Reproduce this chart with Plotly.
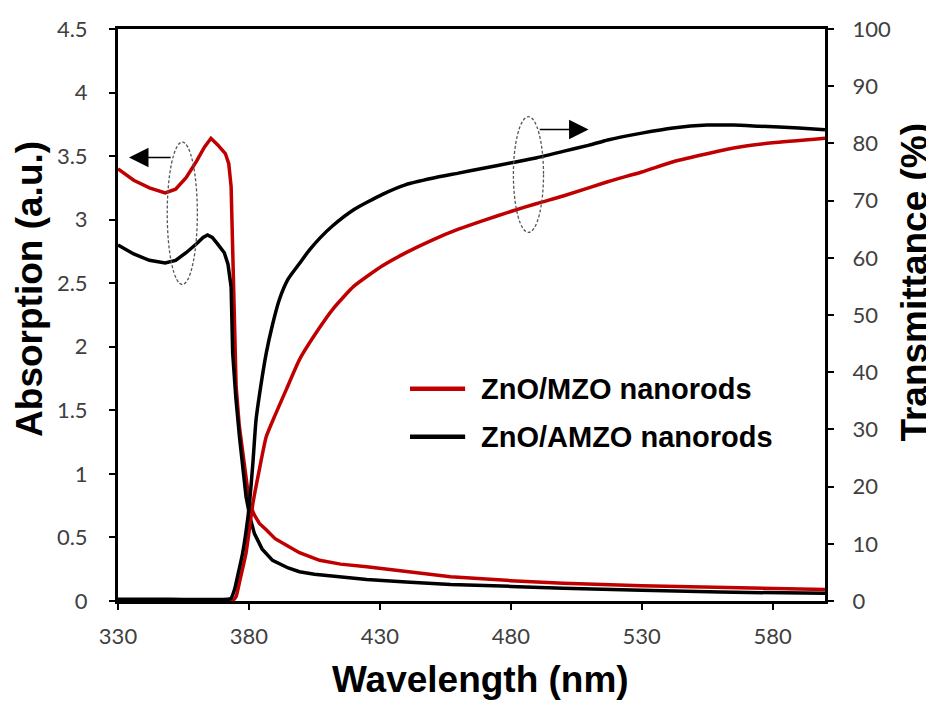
import plotly.graph_objects as go

# ---------------- data ----------------
wl_abs_mzo = [330, 336, 342, 348, 352, 356, 360, 363, 365.5, 368, 371, 372.3, 373.2, 374.1, 375.1,
              376.3, 377.6, 379, 380.2, 382, 384, 386.6, 390, 395, 399.3, 407, 415, 425, 440, 457,
              480, 500, 530, 560, 580, 600]
abs_mzo = [3.40, 3.31, 3.25, 3.21, 3.24, 3.33, 3.46, 3.57, 3.64, 3.59, 3.52, 3.44, 3.26, 2.47, 1.69,
           1.38, 1.16, 0.93, 0.77, 0.68, 0.61, 0.56, 0.49, 0.43, 0.38, 0.32, 0.29, 0.27, 0.23, 0.19,
           0.16, 0.14, 0.12, 0.105, 0.095, 0.09]

wl_abs_amzo = [330, 336, 342, 348, 352, 356, 360, 362.5, 364.2, 366, 368, 370.6, 372, 373.2, 373.8,
               375, 376.4, 377.6, 378.9, 380.5, 382.1, 385, 389, 395, 399.3, 405, 415, 425, 440, 457,
               480, 500, 530, 560, 600]
abs_amzo = [2.80, 2.73, 2.68, 2.66, 2.68, 2.74, 2.81, 2.86, 2.88, 2.86, 2.81, 2.74, 2.65, 2.47, 1.95,
            1.60, 1.29, 1.03, 0.82, 0.65, 0.53, 0.41, 0.32, 0.26, 0.23, 0.21, 0.19, 0.17, 0.15, 0.13,
            0.115, 0.10, 0.085, 0.07, 0.06]

wl_tr_mzo = [330, 350, 374, 375.1, 376.5, 378.9, 381.5, 384, 386.6, 390, 394.3, 399.3, 407, 412, 420,
             431, 440, 450, 460, 470, 480, 490, 500, 517, 530, 542, 555, 568, 580, 600]
tr_mzo = [0.2, 0.2, 0.2, 0.8, 3.5, 8.4, 17, 23, 28.7, 32.5, 37.0, 42.2, 47.8, 51.0, 55,
          58.6, 60.9, 63.1, 65, 66.6, 68.1, 69.5, 70.8, 73.3, 75, 76.8, 78.2, 79.4, 80.1, 80.9]

wl_tr_amzo = [330, 350, 372, 373.2, 374.5, 376, 377.6, 379, 380.2, 381.5, 382.7, 384.5, 386.6, 389,
              391.7, 395, 399.3, 403, 407, 412, 420, 431, 440, 450, 460, 470, 480, 490, 500, 510,
              517, 530, 542, 555, 565, 575, 590, 600]
tr_amzo = [0.3, 0.3, 0.3, 0.5, 2, 5, 8.4, 12.5, 17, 24, 31.6, 37.5, 43.3, 48.3,
           52.8, 56.3, 59.0, 61.3, 63.4, 65.6, 68.4, 71.1, 72.8, 73.9, 74.8, 75.7, 76.6, 77.5, 78.6, 79.7,
           80.6, 81.8, 82.7, 83.2, 83.2, 83.0, 82.7, 82.4]

series_names = ["ZnO/MZO nanorods", "ZnO/AMZO nanorods"]
x_ticks = [330, 380, 430, 480, 530, 580]
axis_titles = ["Wavelength (nm)", "Absorption (a.u.)", "Transmittance (%)"]

RED = "#C00000"
BLACK = "#000000"
TICKFONT = dict(family="Lato", size=22, color="#404040")
TITLEFONT = dict(family="Liberation Sans", size=37, color="#000000", weight="bold")
LEGFONT = dict(family="Liberation Sans", size=29, color="#000000", weight="bold")

fig = go.Figure()
fig.add_trace(go.Scatter(x=wl_abs_mzo, y=abs_mzo, mode="lines", name=series_names[0], showlegend=False,
                         line=dict(color=RED, width=3.5), yaxis="y"))
fig.add_trace(go.Scatter(x=wl_abs_amzo, y=abs_amzo, mode="lines", name=series_names[1], showlegend=False,
                         line=dict(color=BLACK, width=3.5), yaxis="y"))
fig.add_trace(go.Scatter(x=wl_tr_mzo, y=tr_mzo, mode="lines", name=series_names[0], showlegend=False,
                         line=dict(color=RED, width=3.5, shape="spline", smoothing=0.5), yaxis="y2"))
fig.add_trace(go.Scatter(x=wl_tr_amzo, y=tr_amzo, mode="lines", name=series_names[1], showlegend=False,
                         line=dict(color=BLACK, width=3.5, shape="spline", smoothing=0.5), yaxis="y2"))

# dashed ellipses marking the curve groups
fig.add_shape(type="circle", xref="x", yref="y", x0=348.8, x1=360.3, y0=2.49, y1=3.61,
              line=dict(color="#555555", width=1.3, dash="3px,2px"))
fig.add_shape(type="circle", xref="x", yref="y", x0=481, x1=492.5, y0=2.90, y1=3.81,
              line=dict(color="#555555", width=1.3, dash="3px,2px"))
# arrows pointing to the relevant axis
fig.add_annotation(x=334.2, y=3.49, ax=350.7, ay=3.49, xref="x", yref="y", axref="x", ayref="y",
                   text="", showarrow=True, arrowhead=2, arrowsize=2.6, arrowwidth=1.5, arrowcolor="#000")
fig.add_annotation(x=509.7, y=3.71, ax=490.5, ay=3.71, xref="x", yref="y", axref="x", ayref="y",
                   text="", showarrow=True, arrowhead=2, arrowsize=2.6, arrowwidth=1.5, arrowcolor="#000")

# legend drawn inside the plot area
leg_rows = [(series_names[0], RED, 0.371), (series_names[1], BLACK, 0.287)]
for name, col, yy in leg_rows:
    fig.add_shape(type="line", xref="paper", yref="paper", x0=0.413, x1=0.491, y0=yy, y1=yy,
                  line=dict(color=col, width=4.5))
    fig.add_annotation(xref="paper", yref="paper", x=0.511, y=yy, xanchor="left", yanchor="middle",
                       text=name, showarrow=False, font=LEGFONT)

# axis titles
fig.add_annotation(xref="paper", yref="paper", x=0.513, y=-0.137, xanchor="center", yanchor="middle",
                   text=axis_titles[0], showarrow=False, font=TITLEFONT)
fig.add_annotation(xref="paper", yref="paper", x=-0.125, y=0.545, xanchor="center", yanchor="middle",
                   text=axis_titles[1], showarrow=False, font=TITLEFONT, textangle=-90)
fig.add_annotation(xref="paper", yref="paper", x=1.127, y=0.558, xanchor="center", yanchor="middle",
                   text=axis_titles[2], showarrow=False, font=TITLEFONT, textangle=-90)

axis_common = dict(showgrid=False, zeroline=False, showline=True, linecolor="black", linewidth=3,
                   ticks="outside", ticklen=6, tickwidth=2, tickcolor="black",
                   tickfont=TICKFONT, automargin=False)

# the page body adds an 8px offset, so the figure is 8px smaller than the window
fig.update_layout(
    width=926, height=694,
    margin=dict(l=110, r=109, t=21, b=101),
    paper_bgcolor="white", plot_bgcolor="white",
    showlegend=False,
    xaxis=dict(range=[330, 600], tickvals=x_ticks, mirror=True, ticklabelstandoff=8, **axis_common),
    yaxis=dict(range=[0, 4.5], dtick=0.5, tick0=0, ticklabelstandoff=17, **axis_common),
    yaxis2=dict(range=[0, 100], dtick=10, tick0=0, overlaying="y", side="right",
                ticklabelstandoff=14, **axis_common),
)

fig.write_html("out.html")
